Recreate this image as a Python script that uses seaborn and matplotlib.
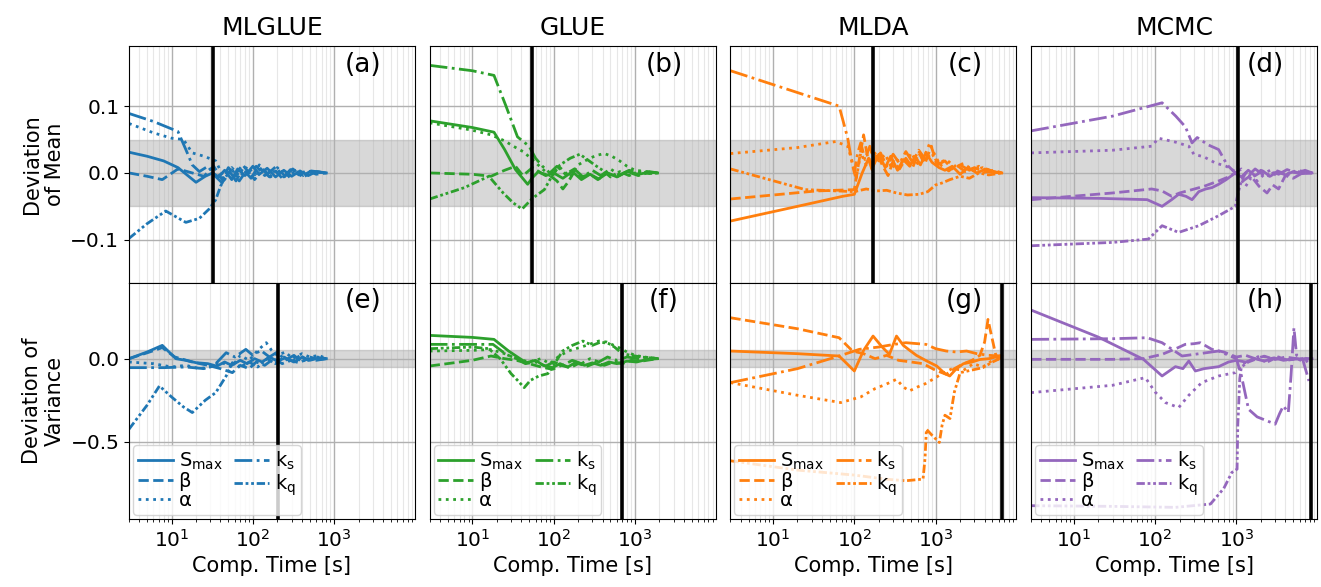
import matplotlib
matplotlib.use('Agg')
import matplotlib.pyplot as plt
import pandas as pd
import seaborn as sns

#%% values: (comp. time [s], deviation)
methods = ['MLGLUE', 'GLUE', 'MLDA', 'MCMC']
colors = ['tab:blue', 'tab:green', 'tab:orange', 'tab:purple']
params = ['smax', 'beta', 'alpha', 'ks', 'kq']
labels = [r'S$_{\rm max}$', 'β', 'α', r'k$_{\rm s}$', r'k$_{\rm q}$']
panel_tags = ['(a)', '(b)', '(c)', '(d)', '(e)', '(f)', '(g)', '(h)']
row_labels = ['Deviation\nof Mean', 'Deviation of\nVariance']
vline_mean = [32, 54, 169, 1060]
vline_var = [206, 690, 6600, 8300]

# (a) MLGLUE, mean
a_smax = [(3, 0.031), (5, 0.025), (8, 0.018), (12, 0.008), (20, -0.014), (26, -0.005), (32, 0.0), (38, -0.006),
          (45, 0.004), (55, -0.01), (65, 0.006), (80, -0.004), (100, 0.01), (120, -0.002), (150, 0.007),
          (190, -0.006), (240, 0.004), (300, -0.005), (380, 0.003), (480, -0.004), (600, 0.002), (800, 0.0)]
a_beta = [(3, 0.0), (5, -0.005), (7.7, -0.01), (12, 0.006), (18, 0.0), (25, -0.005), (33, 0.01), (42, -0.01),
          (50, 0.008), (60, -0.003), (75, 0.012), (90, 0.0), (110, 0.01), (140, -0.004), (180, 0.006),
          (230, -0.008), (290, 0.005), (370, -0.003), (460, 0.004), (600, -0.002), (800, 0.0)]
a_alpha = [(3, 0.074), (6, 0.06), (10, 0.052), (14, 0.05), (18, 0.03), (25, 0.025), (35, 0.018), (45, -0.01),
           (55, 0.008), (70, -0.006), (85, 0.01), (105, -0.003), (130, 0.008), (165, -0.006), (210, 0.005),
           (260, -0.004), (330, 0.004), (420, -0.006), (540, 0.002), (800, 0.0)]
a_ks = [(3, 0.089), (6, 0.077), (12, 0.062), (15, 0.035), (18, 0.012), (22, 0.002), (28, 0.01), (34, -0.004),
        (42, -0.015), (50, 0.005), (62, -0.012), (75, 0.006), (95, -0.008), (120, 0.012), (150, -0.002),
        (190, 0.009), (240, -0.006), (310, 0.006), (400, -0.005), (520, 0.003), (800, 0.0)]
a_kq = [(3, -0.098), (5, -0.076), (8.5, -0.057), (15, -0.074), (22, -0.068), (29, -0.054), (35, -0.04),
        (40, -0.02), (45, -0.008), (55, 0.006), (68, -0.012), (85, 0.005), (105, -0.01), (130, 0.004),
        (160, -0.006), (200, 0.008), (260, -0.008), (330, 0.003), (420, -0.004), (560, 0.002), (800, 0.0)]

# (b) GLUE, mean
b_smax = [(3, 0.078), (10, 0.068), (18.5, 0.061), (25, 0.035), (34, 0.005), (48, -0.017), (55, -0.007),
          (65, 0.002), (80, -0.004), (100, 0.0), (130, -0.008), (170, 0.002), (220, -0.01), (280, -0.002),
          (360, -0.009), (460, 0.0), (600, -0.006), (800, 0.002), (1100, -0.002), (1500, 0.001), (1900, 0.0)]
b_beta = [(3, 0.0), (10, -0.002), (17, -0.005), (25, 0.004), (34, 0.01), (42, -0.004), (55, 0.008), (70, 0.0),
          (90, -0.004), (110, -0.012), (130, -0.024), (150, -0.014), (180, 0.002), (220, -0.006), (280, -0.002),
          (350, -0.01), (450, 0.0), (600, -0.006), (800, 0.002), (1100, -0.004), (1500, 0.001), (1900, 0.0)]
b_alpha = [(3, 0.075), (10, 0.064), (17, 0.057), (25, 0.048), (32, 0.04), (42, 0.032), (55, 0.02), (70, 0.008),
           (90, -0.004), (120, 0.008), (160, -0.006), (200, 0.012), (260, 0.02), (330, 0.026), (420, 0.029),
           (520, 0.025), (650, 0.018), (800, 0.01), (1000, 0.004), (1400, 0.002), (1900, 0.0)]
b_ks = [(3, 0.161), (10, 0.153), (18.5, 0.146), (26, 0.1), (36, 0.054), (50, 0.04), (60, 0.022), (73, 0.01),
        (90, 0.0), (110, 0.01), (140, -0.002), (180, 0.006), (230, -0.006), (300, 0.004), (380, -0.004),
        (500, 0.006), (650, -0.003), (850, 0.004), (1100, -0.001), (1500, 0.002), (1900, 0.0)]
b_kq = [(3, -0.039), (8, -0.022), (16, -0.005), (24, -0.03), (32, -0.045), (41, -0.054), (55, -0.038),
        (77, -0.025), (95, -0.005), (120, 0.012), (160, 0.022), (210, 0.028), (260, 0.02), (320, 0.012),
        (400, 0.004), (500, -0.006), (650, 0.002), (850, -0.004), (1100, 0.002), (1500, -0.001), (1900, 0.0)]

# (c) MLDA, mean
c_smax = [(3, -0.072), (20, -0.05), (72, -0.035), (100, -0.032), (125, 0.0), (150, 0.022), (170, 0.01),
          (200, 0.028), (240, 0.008), (280, 0.025), (340, 0.004), (400, 0.02), (480, 0.01), (560, 0.025),
          (650, 0.012), (760, 0.03), (900, 0.016), (1100, 0.008), (1300, 0.004), (1600, 0.01), (2000, -0.002),
          (2500, 0.008), (3200, 0.0), (4200, 0.006), (5500, 0.001), (6500, 0.0)]
c_beta = [(3, -0.039), (34, -0.027), (100, -0.025), (115, 0.02), (130, 0.057), (145, 0.025), (165, 0.005),
          (190, 0.03), (220, 0.012), (260, -0.004), (300, 0.018), (360, 0.006), (430, 0.022), (520, 0.008),
          (620, 0.03), (740, 0.014), (880, 0.04), (1000, 0.02), (1200, 0.01), (1450, 0.003), (1800, 0.012),
          (2300, 0.002), (3000, 0.008), (4000, 0.001), (5200, 0.004), (6500, 0.0)]
c_alpha = [(3, 0.029), (20, 0.038), (59, 0.047), (83, 0.04), (95, 0.015), (105, -0.01), (120, 0.03),
           (140, 0.012), (170, 0.035), (200, 0.018), (240, 0.028), (290, 0.006), (350, 0.022), (420, 0.012),
           (500, 0.03), (600, 0.014), (720, 0.024), (850, 0.045), (950, 0.03), (1100, 0.015), (1350, 0.02),
           (1700, 0.01), (2200, 0.014), (2900, 0.004), (3800, 0.008), (5000, 0.002), (6500, 0.0)]
c_ks = [(3, 0.153), (65, 0.1), (83, 0.052), (92, 0.02), (100, 0.0), (110, 0.03), (120, 0.045), (135, 0.02),
        (155, 0.04), (180, 0.015), (210, 0.03), (250, 0.01), (300, 0.028), (360, 0.014), (430, 0.032),
        (520, 0.016), (620, 0.034), (750, 0.02), (900, 0.03), (1050, 0.012), (1300, 0.018), (1600, 0.006),
        (2000, 0.012), (2600, 0.004), (3400, 0.01), (4500, 0.002), (6500, 0.0)]
c_kq = [(3, 0.006), (25, -0.025), (100, -0.028), (140, -0.024), (185, -0.027), (250, -0.026), (330, -0.03),
        (450, -0.033), (630, -0.032), (800, -0.028), (1000, -0.018), (1200, -0.015), (1500, -0.01),
        (2000, -0.005), (2600, -0.008), (3400, 0.0), (4500, -0.003), (6500, 0.0)]

# (d) MCMC, mean
d_smax = [(3, -0.037), (20, -0.038), (80, -0.04), (122, -0.05), (160, -0.04), (195, -0.032), (240, -0.035),
          (285, -0.04), (345, -0.028), (420, -0.024), (500, -0.022), (605, -0.017), (750, -0.01), (970, 0.0),
          (1150, -0.006), (1400, 0.004), (1700, -0.004), (2100, 0.003), (2600, -0.005), (3200, 0.002),
          (4000, -0.003), (5000, 0.002), (6500, -0.001), (8500, 0.0)]
d_beta = [(3, -0.04), (30, -0.03), (91, -0.024), (122, -0.027), (160, -0.035), (200, -0.03), (285, -0.025),
          (400, -0.02), (605, -0.012), (800, -0.006), (970, 0.0), (1200, -0.012), (1500, -0.004), (1900, -0.02),
          (2380, -0.03), (2800, -0.018), (3300, -0.024), (4000, -0.004), (5000, -0.008), (6500, 0.0), (8500, 0.0)]
d_alpha = [(3, 0.03), (30, 0.034), (91, 0.04), (110, 0.052), (180, 0.046), (260, 0.04), (300, 0.028),
           (400, 0.024), (550, 0.015), (750, 0.01), (970, 0.002), (1150, -0.01), (1300, -0.02), (1500, -0.008),
           (1800, -0.012), (2200, -0.002), (2700, -0.006), (3300, 0.002), (4200, -0.004), (5500, 0.004), (8500, 0.0)]
d_ks = [(3, 0.063), (30, 0.085), (122, 0.105), (180, 0.085), (236, 0.069), (285, 0.045), (330, 0.053),
        (450, 0.042), (605, 0.035), (770, 0.012), (970, 0.0), (1150, 0.006), (1400, -0.004), (1700, 0.006),
        (2100, -0.002), (2600, 0.004), (3300, -0.002), (4200, 0.005), (5500, 0.0), (7000, 0.004), (8500, 0.0)]
d_kq = [(3, -0.109), (30, -0.104), (83, -0.099), (122, -0.079), (195, -0.089), (345, -0.079), (605, -0.064),
        (970, -0.05), (1050, -0.03), (1150, -0.012), (1300, 0.0), (1600, -0.006), (2000, 0.004), (2500, -0.003),
        (3200, 0.003), (4000, -0.002), (5500, 0.002), (8500, 0.0)]

# (e) MLGLUE, variance
e_smax = [(3, 0.0), (5, 0.04), (7.7, 0.08), (11.3, 0.0), (15, -0.01), (20, -0.024), (28, -0.03), (36, -0.045),
          (45, -0.02), (55, -0.04), (70, -0.01), (85, -0.03), (105, 0.0), (130, -0.02), (160, 0.01),
          (200, -0.015), (250, 0.005), (320, -0.02), (400, 0.008), (500, -0.01), (650, 0.004), (800, 0.0)]
e_beta = [(3, 0.0), (5, 0.035), (7.7, 0.066), (11, 0.01), (18, -0.02), (28, -0.04), (40, -0.06), (56, -0.084),
          (70, -0.04), (90, -0.06), (110, -0.02), (140, -0.04), (180, 0.0), (230, -0.03), (290, -0.01),
          (370, -0.025), (470, 0.0), (600, -0.01), (800, 0.0)]
e_alpha = [(3, -0.02), (6, -0.03), (10, -0.05), (15, -0.04), (22, -0.06), (30, -0.05), (40, -0.02),
           (55, -0.05), (70, 0.02), (90, -0.01), (115, 0.05), (146, 0.096), (170, 0.05), (200, 0.02),
           (250, 0.04), (310, 0.0), (400, 0.03), (500, 0.01), (650, 0.02), (800, 0.0)]
e_ks = [(3, -0.054), (8, -0.054), (15, -0.05), (25, -0.06), (35, -0.03), (47, 0.036), (60, 0.01), (82, 0.056),
        (100, 0.02), (125, 0.05), (160, 0.01), (200, 0.04), (250, -0.01), (320, 0.02), (400, -0.02),
        (500, 0.01), (650, -0.005), (800, 0.0)]
e_kq = [(3, -0.424), (5, -0.28), (7.1, -0.164), (10, -0.23), (14, -0.29), (18, -0.324), (26, -0.25),
        (35, -0.204), (47, -0.104), (56, -0.024), (70, -0.05), (90, -0.02), (115, -0.05), (150, 0.0),
        (190, -0.03), (240, 0.01), (300, -0.02), (380, 0.02), (480, -0.01), (620, 0.01), (800, 0.0)]

# (f) GLUE, variance
f_smax = [(3, 0.14), (10, 0.128), (18.5, 0.116), (28, 0.046), (36, 0.01), (46, -0.024), (60, -0.01),
          (75, -0.04), (97, -0.054), (120, -0.03), (150, -0.05), (190, -0.02), (240, -0.04), (300, -0.025),
          (380, -0.04), (480, -0.02), (600, -0.03), (800, -0.015), (1050, -0.02), (1400, -0.005), (1900, 0.0)]
f_beta = [(3, -0.044), (10, -0.01), (17, 0.016), (25, 0.0), (35, -0.01), (50, -0.03), (70, -0.05), (97, -0.064),
          (125, -0.04), (160, -0.055), (200, -0.03), (260, -0.045), (330, -0.025), (420, -0.04), (550, -0.02),
          (700, -0.03), (900, -0.01), (1200, -0.015), (1900, 0.0)]
f_alpha = [(3, 0.046), (10, 0.05), (17, 0.055), (25, 0.03), (35, 0.0), (50, -0.02), (70, 0.0), (90, -0.03),
           (120, 0.02), (160, 0.05), (220, 0.07), (290, 0.09), (360, 0.106), (450, 0.1), (550, 0.08),
           (640, 0.066), (800, 0.04), (1000, 0.02), (1300, 0.01), (1900, 0.0)]
f_ks = [(3, 0.086), (10, 0.086), (18, 0.086), (26, 0.026), (35, 0.0), (45, -0.03), (60, -0.02), (80, -0.045),
        (100, -0.02), (130, -0.04), (170, -0.01), (220, -0.03), (280, 0.0), (360, -0.02), (460, 0.01),
        (600, -0.01), (800, 0.01), (1100, 0.0), (1400, 0.01), (1900, 0.0)]
f_kq = [(3, 0.06), (10, 0.07), (16, 0.06), (22, 0.0), (30, -0.09), (36, -0.13), (43.5, -0.174), (52, -0.13),
        (66, -0.104), (85, -0.09), (100, -0.04), (129, 0.046), (170, 0.08), (229, 0.106), (300, 0.08),
        (380, 0.1), (480, 0.09), (560, 0.07), (700, 0.03), (900, 0.02), (1200, 0.01), (1900, 0.0)]

# (g) MLDA, variance
g_smax = [(3, 0.046), (20, 0.03), (65, 0.016), (100, -0.074), (130, 0.05), (170, 0.136), (220, 0.07),
          (270, 0.026), (330, 0.136), (400, 0.08), (480, 0.05), (580, 0.02), (750, -0.01), (1030, -0.044),
          (1300, -0.09), (1490, -0.104), (1800, -0.06), (2200, -0.03), (2800, -0.02), (3500, -0.005),
          (4500, 0.0), (5500, 0.01), (6500, 0.02)]
g_beta = [(3, 0.246), (20, 0.18), (65, 0.126), (95, 0.046), (130, 0.03), (180, 0.0), (250, 0.02), (350, -0.01),
          (500, -0.02), (700, -0.03), (1000, -0.07), (1350, -0.094), (1700, -0.06), (2200, -0.03), (2800, -0.01),
          (3500, 0.02), (4000, 0.1), (4400, 0.236), (4800, 0.15), (5500, 0.02), (6500, 0.0)]
g_alpha = [(3, -0.144), (20, -0.22), (68, -0.264), (120, -0.23), (180, -0.18), (245, -0.154), (330, -0.124),
           (400, -0.17), (475, -0.194), (600, -0.17), (750, -0.15), (925, -0.124), (1200, -0.09), (1600, -0.06),
           (2200, -0.07), (2900, -0.03), (3800, -0.05), (5000, -0.01), (6500, 0.0)]
g_ks = [(3, -0.144), (20, -0.06), (65, 0.016), (115, 0.056), (200, 0.07), (300, 0.085), (430, 0.096),
        (760, 0.086), (1000, 0.06), (1350, 0.046), (1800, 0.04), (2400, 0.046), (3200, 0.03), (4500, 0.02),
        (6100, 0.016), (6500, 0.01)]
g_kq = [(3, -0.614), (20, -0.67), (100, -0.7), (250, -0.725), (430, -0.734), (700, -0.724), (740, -0.6),
        (770, -0.424), (900, -0.46), (1110, -0.504), (1200, -0.4), (1300, -0.34), (1500, -0.36), (1700, -0.2),
        (2000, -0.084), (2700, -0.07), (3800, -0.054), (5000, -0.02), (6100, 0.0)]

# (h) MCMC, variance
h_smax = [(3, 0.292), (20, 0.13), (72, -0.004), (122, -0.104), (178, -0.048), (220, -0.06), (260, -0.014),
          (313, -0.074), (400, -0.06), (605, -0.048), (800, -0.02), (1000, -0.01), (1300, -0.02), (1700, 0.0),
          (2200, -0.015), (2900, 0.005), (3800, -0.01), (5000, 0.0), (6500, -0.005), (8500, 0.0)]
h_beta = [(3, -0.004), (30, -0.004), (72, 0.0), (122, 0.026), (180, 0.06), (235, 0.086), (300, 0.09),
          (360, 0.096), (500, 0.056), (700, 0.04), (1000, 0.01), (1300, 0.02), (1700, 0.0), (2200, 0.015),
          (3000, -0.005), (4000, 0.01), (5500, 0.0), (8500, 0.0)]
h_alpha = [(3, -0.204), (30, -0.16), (76, -0.114), (100, -0.2), (134, -0.264), (195, -0.294), (260, -0.22),
           (375, -0.144), (605, -0.104), (970, -0.084), (1200, -0.03), (1500, -0.01), (2000, 0.02), (2600, 0.0),
           (3300, 0.01), (4300, -0.01), (5500, 0.0), (7000, -0.02), (8500, 0.0)]
h_ks = [(3, 0.116), (30, 0.12), (80, 0.126), (122, 0.096), (215, 0.016), (350, 0.03), (605, 0.046),
        (1000, 0.0), (1150, -0.1), (1410, -0.304), (1800, -0.35), (2390, -0.374), (3000, -0.394), (3400, -0.33),
        (3780, -0.284), (4350, -0.324), (4700, -0.1), (5100, 0.186), (5500, 0.02), (6500, 0.0), (7800, -0.134)]
h_kq = [(3, -0.884), (30, -0.888), (178, -0.894), (480, -0.874), (700, -0.78), (880, -0.684), (1020, -0.664),
        (1040, -0.4), (1060, -0.314), (1100, -0.12), (1150, -0.05), (1400, -0.02), (1800, 0.0), (2400, -0.02),
        (3200, 0.01), (4200, -0.01), (5500, 0.0), (8500, 0.0)]

mean_data = [[a_smax, a_beta, a_alpha, a_ks, a_kq],
             [b_smax, b_beta, b_alpha, b_ks, b_kq],
             [c_smax, c_beta, c_alpha, c_ks, c_kq],
             [d_smax, d_beta, d_alpha, d_ks, d_kq]]
var_data = [[e_smax, e_beta, e_alpha, e_ks, e_kq],
            [f_smax, f_beta, f_alpha, f_ks, f_kq],
            [g_smax, g_beta, g_alpha, g_ks, g_kq],
            [h_smax, h_beta, h_alpha, h_ks, h_kq]]

styles = ['-', '--', ':', '-.', (0, (3, 1, 1, 1, 1, 1))]

#%% build long table
rows = []
for r, block in enumerate([mean_data, var_data]):
    for c, series in enumerate(block):
        for p, pts in zip(params, series):
            for t, v in pts:
                rows.append({'row': r, 'col': c, 'param': p, 'time': t, 'dev': v})
df = pd.DataFrame(rows)

#%% plot
plt.rcParams['font.size'] = 14
fig, axes = plt.subplots(2, 4, figsize=(13.21, 5.87), dpi=100, sharex=True, sharey='row')
fig.subplots_adjust(left=129/1321, right=1317/1321, top=1-46/587, bottom=1-519/587,
                    wspace=15/287, hspace=0)

for r in range(2):
    for c in range(4):
        ax = axes[r, c]
        ax.axhspan(-0.05, 0.05, color='gray', alpha=0.3, lw=1)
        sub = df[(df.row == r) & (df.col == c)]
        for p, lbl, ls in zip(params, labels, styles):
            d = sub[sub.param == p]
            sns.lineplot(x=d['time'].values, y=d['dev'].values, ax=ax, color=colors[c], lw=2.0,
                         linestyle=ls, label=lbl, estimator=None, sort=False, legend=False)
        vl = vline_mean[c] if r == 0 else vline_var[c]
        ax.axvline(vl, color='black', lw=2.6)
        ax.set_xscale('log')
        ax.grid(which='major', color='#b0b0b0', lw=1)
        ax.grid(which='minor', axis='x', color='#b0b0b0', lw=0.8, alpha=0.3)
        ax.text(0.82, 0.92, panel_tags[r*4 + c], transform=ax.transAxes, ha='center', va='center', fontsize=19)
        if c > 0:
            ax.tick_params(axis='y', left=False)
        if r == 0:
            ax.set_title(methods[c], fontsize=18, pad=8)
            ax.tick_params(axis='x', which='both', bottom=False)
        else:
            ax.set_xlabel('Comp. Time [s]', fontsize=15)
            ax.legend(loc='lower left', ncol=2, fontsize=14, labelspacing=0.0, handlelength=1.8,
                      handletextpad=0.3, columnspacing=0.6, borderpad=0.25, borderaxespad=0.2)
        ax.tick_params(labelsize=14.5)

axes[0, 0].set_xlim(3, 9800)
axes[0, 0].set_ylim(-0.164, 0.19)
axes[1, 0].set_ylim(-0.964, 0.458)
axes[0, 0].set_yticks([-0.1, 0.0, 0.1])
axes[1, 0].set_yticks([-0.5, 0.0])
axes[0, 0].set_ylabel(row_labels[0], fontsize=15)
axes[1, 0].set_ylabel(row_labels[1], fontsize=15)

plt.savefig('out.png', dpi=100)
